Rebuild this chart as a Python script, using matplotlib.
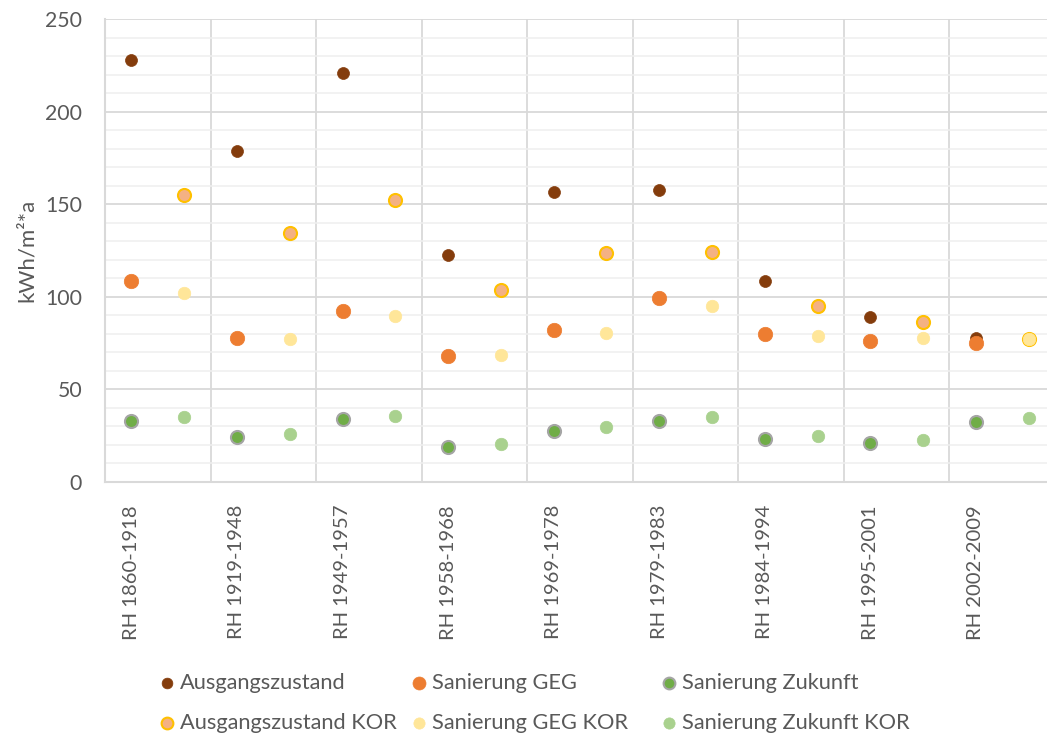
import numpy as np
import matplotlib
matplotlib.use("Agg")
import matplotlib.pyplot as plt
from matplotlib.lines import Line2D
from matplotlib.ticker import MultipleLocator

plt.rcParams['font.family'] = ['Lato', 'DejaVu Sans']

# building age classes (row houses)
groups = ["RH 1860-1918", "RH 1919-1948", "RH 1949-1957", "RH 1958-1968",
          "RH 1969-1978", "RH 1979-1983", "RH 1984-1994", "RH 1995-2001",
          "RH 2002-2009"]

# kWh/m²*a per age class
ausgang = [228, 178.5, 221, 122.5, 156.5, 157.5, 108.5, 89, 78]
geg = [108.5, 78, 92.5, 68, 82, 99.5, 80, 76, 75]
zukunft = [33, 24.5, 34, 19, 27.8, 33.2, 23.3, 21, 32.5]
ausgang_kor = [155, 134.5, 152.5, 103.8, 123.8, 124, 95, 86.5, 77]
geg_kor = [102, 77.2, 89.7, 68.5, 80.7, 95, 79, 77.5, 77]
zukunft_kor = [35, 26, 35.8, 20.5, 29.7, 35.3, 24.8, 22.5, 34.7]

series = [
    ("Ausgangszustand", ausgang, 0, dict(mfc="#843C0C", mec="#843C0C", ms=8.6, mew=0.5)),
    ("Sanierung GEG", geg, 0, dict(mfc="#ED7D31", mec="#ED7D31", ms=10.4, mew=0.5)),
    ("Sanierung Zukunft", zukunft, 0, dict(mfc="#70AD47", mec="#A5A5A5", ms=9.4, mew=1.5)),
    ("Ausgangszustand KOR", ausgang_kor, 1, dict(mfc="#F4B183", mec="#FFC000", ms=9.4, mew=1.5)),
    ("Sanierung GEG KOR", geg_kor, 1, dict(mfc="#FFE699", mec="#FFE699", ms=9.0, mew=0.5)),
    ("Sanierung Zukunft KOR", zukunft_kor, 1, dict(mfc="#A9D18E", mec="#A9D18E", ms=9.0, mew=0.5)),
]

W, H = 1047, 738
fig = plt.figure(figsize=(W / 100, H / 100), dpi=100)
ax = fig.add_axes([105 / W, 1 - 482 / H, 950 / W, 463 / H])

text_col = "#595959"
for name, vals, offset, style in series:
    x = np.arange(len(vals)) * 2 + offset
    ax.plot(x, vals, linestyle="none", marker="o", zorder=3, **style)

n = len(groups) * 2
ax.set_xlim(-0.5, n - 0.5)
ax.set_ylim(0, 250)

ax.yaxis.set_major_locator(MultipleLocator(50))
ax.yaxis.set_minor_locator(MultipleLocator(10))
ax.grid(axis="y", which="major", color="#D9D9D9", lw=1.3, zorder=1)
ax.grid(axis="y", which="minor", color="#EFEFEF", lw=1.1, zorder=0)
for b in np.arange(1.5, n - 1, 2):
    ax.axvline(b, color="#D9D9D9", lw=1.3, zorder=1)

ax.set_xticks(np.arange(len(groups)) * 2)
ax.set_xticklabels(groups, rotation=90, fontsize=14.6, color=text_col)
ax.tick_params(axis="x", length=0, pad=16.5)
ax.tick_params(axis="y", which="both", length=0, pad=16.5, labelsize=15.3, labelcolor=text_col)

for s in ["top", "right"]:
    ax.spines[s].set_visible(False)
for s in ["left", "bottom"]:
    ax.spines[s].set_color("#D9D9D9")
    ax.spines[s].set_linewidth(1.5)

ax.set_ylabel("kWh/m²*a", fontsize=16, color=text_col, labelpad=6)

# legend: two rows, three equal columns
cols_x = [167, 419, 669]
rows_y = [683, 723]
order = [[0, 1, 2], [3, 4, 5]]
for r, idxs in enumerate(order):
    for c, i in enumerate(idxs):
        name, vals, offset, style = series[i]
        st = dict(style)
        st["ms"] = st["ms"] * 0.9
        fx, fy = cols_x[c] / W, 1 - rows_y[r] / H
        fig.add_artist(Line2D([fx], [fy], transform=fig.transFigure,
                              linestyle="none", marker="o", **st))
        fig.text((cols_x[c] + 13) / W, fy, name, fontsize=15.7, color=text_col,
                 va="center", ha="left")

fig.savefig("out.png", dpi=100)
